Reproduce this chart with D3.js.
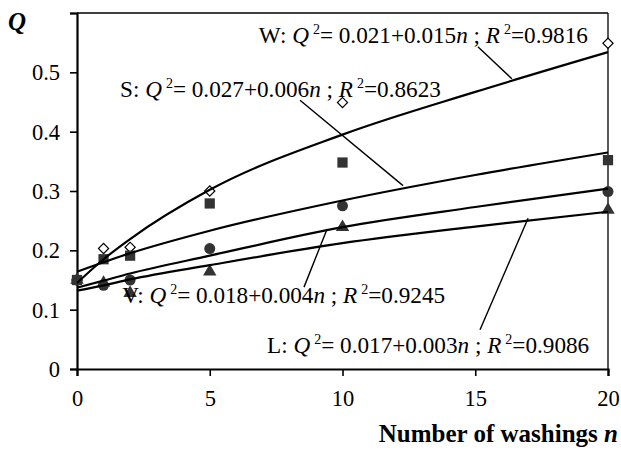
<!DOCTYPE html>
<html>
<head>
<meta charset="utf-8">
<script src="https://cdn.jsdelivr.net/npm/d3@7"></script>
<style>
  body { margin: 0; background: #fff; }
  svg { display: block; font-family: "Liberation Serif", "Times New Roman", serif; }
</style>
</head>
<body>
<svg width="621" height="450"></svg>
<script>
// measured points
var washings = [0, 1, 2, 5, 10, 20];
var qW = [0.150, 0.203, 0.205, 0.300, 0.449, 0.549];
var qS = [0.150, 0.185, 0.191, 0.279, 0.348, 0.352];
var qV = [0.150, 0.141, 0.150, 0.203, 0.275, 0.299];
var qL = [0.150, 0.145, 0.128, 0.164, 0.239, 0.268];

// fitted curves
var curveN = [0, 1, 2, 5, 10, 15, 20];
var fitW = [0.145, 0.185, 0.219, 0.302, 0.395, 0.467, 0.534];
var fitS = [0.164, 0.180, 0.195, 0.233, 0.284, 0.327, 0.365];
var fitV = [0.137, 0.149, 0.161, 0.191, 0.239, 0.273, 0.304];
var fitL = [0.132, 0.141, 0.151, 0.175, 0.212, 0.240, 0.265];

// equation labels
var eqName = ["W", "S", "V", "L"];
var eqA = ["0.021", "0.027", "0.018", "0.017"];
var eqB = ["0.015", "0.006", "0.004", "0.003"];
var eqR2 = ["0.9816", "0.8623", "0.9245", "0.9086"];
// label anchor and leader line (n, Q)
var labelAt = [[6.85, 0.549], [1.62, 0.458], [1.70, 0.111], [7.16, 0.027]];
var leaderFrom = [[15.10, 0.543], [8.40, 0.453], [8.55, 0.138], [15.18, 0.066]];
var leaderTo = [[16.38, 0.489], [12.28, 0.309], [9.42, 0.236], [16.99, 0.254]];

var yTicks = [0, 0.1, 0.2, 0.3, 0.4, 0.5, 0.6];
var xTicks = [0, 5, 10, 15, 20];

var svg = d3.select("svg");
var pLeft = 77, pRight = 608, pTop = 13, pBottom = 369;

var x = d3.scaleLinear().domain([0, 20]).range([pLeft, pRight]);
var y = d3.scaleLinear().domain([0, 0.6]).range([pBottom, pTop]);

// frame
svg.append("line").attr("x1", pLeft).attr("x2", pRight).attr("y1", pTop).attr("y2", pTop)
  .attr("stroke", "#000").attr("stroke-width", 1.6);
svg.append("line").attr("x1", pRight).attr("x2", pRight).attr("y1", pTop).attr("y2", pBottom)
  .attr("stroke", "#000").attr("stroke-width", 1.3);

var yAxis = svg.append("g").attr("transform", "translate(" + pLeft + ",0)")
  .call(d3.axisLeft(y).tickValues(yTicks).tickSize(7).tickPadding(10)
    .tickFormat(function (d) { return d === 0.6 ? "" : String(d); }));
var xAxis = svg.append("g").attr("transform", "translate(0," + pBottom + ")")
  .call(d3.axisBottom(x).tickValues(xTicks).tickSize(7).tickPadding(14));

[yAxis, xAxis].forEach(function (g) {
  g.select(".domain").attr("stroke-width", 2.2);
  g.selectAll(".tick line").attr("stroke-width", 1.6);
  g.selectAll("text").attr("font-family", "Liberation Serif").attr("font-size", 22.5).attr("fill", "#000");
});
yAxis.selectAll("text").attr("dy", "0.34em");

// markers
var mark = "#333";
function points(vals, type, size, filled, rot) {
  svg.append("g").selectAll("path").data(vals).join("path")
    .attr("transform", function (d, i) {
      return "translate(" + x(washings[i]) + "," + y(d) + ")" + (rot ? " rotate(45)" : "");
    })
    .attr("d", d3.symbol().type(type).size(size))
    .attr("fill", filled ? mark : "#fff")
    .attr("stroke", filled ? "none" : "#000")
    .attr("stroke-width", 1.2);
}
points(qW, d3.symbolSquare, 52, false, true);
points(qV, d3.symbolCircle, 95, true);
points(qL, d3.symbolTriangle, 78, true);
points(qS, d3.symbolSquare, 105, true);

// fitted curves
var line = d3.line()
  .x(function (d, i) { return x(curveN[i]); })
  .y(function (d) { return y(d); })
  .curve(d3.curveMonotoneX);
[fitW, fitS, fitV, fitL].forEach(function (f) {
  svg.append("path").attr("d", line(f)).attr("fill", "none")
    .attr("stroke", "#000").attr("stroke-width", 2.2);
});

// leader lines + equations
eqName.forEach(function (name, i) {
  svg.append("line")
    .attr("x1", x(leaderFrom[i][0])).attr("y1", y(leaderFrom[i][1]))
    .attr("x2", x(leaderTo[i][0])).attr("y2", y(leaderTo[i][1]))
    .attr("stroke", "#000").attr("stroke-width", 1.4);

  var t = svg.append("text")
    .attr("x", x(labelAt[i][0])).attr("y", y(labelAt[i][1]))
    .attr("font-size", 23.2);
  t.append("tspan").text(name + ": ");
  t.append("tspan").attr("font-style", "italic").text("Q");
  t.append("tspan").attr("font-size", 14).attr("dx", 4).attr("dy", -9).text("2");
  t.append("tspan").attr("dy", 9).text("= " + eqA[i] + "+" + eqB[i]);
  t.append("tspan").attr("font-style", "italic").text("n");
  t.append("tspan").text(" ; ");
  t.append("tspan").attr("font-style", "italic").text("R");
  t.append("tspan").attr("font-size", 14).attr("dx", 4).attr("dy", -9).text("2");
  t.append("tspan").attr("dy", 9).text("=" + eqR2[i]);
});

// axis titles
svg.append("text").attr("x", 8).attr("y", 30)
  .attr("font-size", 25).attr("font-weight", "bold").attr("font-style", "italic").text("Q");
var xt = svg.append("text").attr("x", 618).attr("y", 442).attr("text-anchor", "end")
  .attr("font-size", 25).attr("font-weight", "bold");
xt.append("tspan").text("Number of washings ");
xt.append("tspan").attr("font-style", "italic").text("n");
</script>
</body>
</html>
